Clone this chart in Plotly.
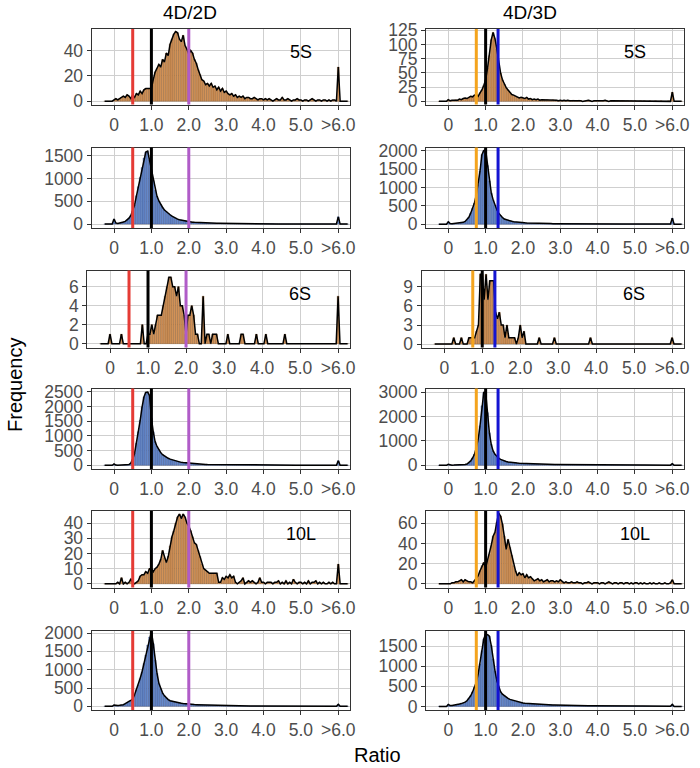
import numpy as np
import plotly.graph_objects as go

# ---------------- data (counts per 0.05-wide ratio bin, first bin centred at -0.25) ----------------
BIN_START = -0.25
BIN_WIDTH = 0.05

tick_vals = [0, 1, 2, 3, 4, 5, 6]
tick_text = ["0", "1.0", "2.0", "3.0", "4.0", "5.0", ">6.0"]

col_titles = ["4D/2D", "4D/3D"]
row_labels = ["5S", None, "6S", None, "10L", None]

ref_2d = [0.5, 1.0, 2.0]
ref_2d_colors = ["#E53B35", "#000000", "#B05CC8"]
ref_3d = [0.75, 1.0, 1.333]
ref_3d_colors = ["#F4A41E", "#000000", "#1414D2"]

s5_2d_a = [0, 0, 0, 0, 0,
           1, 2, 1, 2, 3, 4, 3, 5, 4, 2, 5, 3, 6, 5, 8, 6, 9, 10, 10, 10,
           10, 17, 23, 26, 29, 27, 33, 31, 38, 36, 45, 49, 53, 55, 54, 49, 47, 52, 44, 41,
           37, 40, 38, 33, 30, 25, 21, 17, 16, 13, 14, 12, 14, 11, 12, 9, 11, 8, 10, 7,
           8, 6, 5, 6, 4, 5, 3, 4, 3, 4, 2, 3, 3, 2, 2, 3, 2, 1, 2, 2,
           1, 2, 1, 2, 1, 0, 1, 2, 1, 1, 3, 1, 1, 2, 1, 0, 1, 1, 2, 1,
           1, 0, 1, 1, 0, 1, 2, 1, 0, 1, 1, 0, 1, 1, 0, 1, 0, 1, 1, 0,
           27, 0, 0, 0, 0, 0]

s5_3d_a = [0, 0, 0, 0, 0,
           3, 1, 2, 2, 3, 2, 4, 3, 5, 6, 5, 7, 9, 8, 11, 12, 9, 15, 20, 28,
           38, 58, 80, 108, 121, 110, 92, 66, 50, 38, 30, 24, 20, 16, 12, 11, 9, 7, 6, 7,
           6, 5, 7, 4, 5, 3, 4, 3, 4, 2, 3, 3, 2, 3, 2, 2, 3, 2, 2, 1,
           2, 1, 2, 1, 2, 1, 1, 2, 1, 1, 2, 1, 0, 1, 1, 2, 1, 0, 1, 1,
           1, 0, 1, 1, 2, 1, 0, 1, 1, 0, 1, 1, 0, 1, 1, 0, 1, 0, 1, 0,
           1, 0, 0, 1, 0, 1, 0, 0, 1, 0, 0, 1, 0, 0, 1, 0, 0, 0, 1, 0,
           16, 0, 0, 0, 0, 0]

s5_2d_b = [0, 0, 0, 0, 0,
           110, 25, 15, 20, 30, 45, 60, 90, 130, 190, 290, 420, 620, 820, 1020, 1240, 1450, 1580, 1600, 1400,
           1170, 950, 740, 610, 510, 430, 365, 310, 270, 235, 205, 175, 150, 130, 110, 98, 88, 80, 72, 62,
           52, 47, 43, 40, 37, 34, 31, 29, 27, 25, 24, 22, 21, 20, 19, 18, 17, 16, 15, 15,
           14, 13, 13, 12, 12, 11, 11, 10, 10, 10, 9, 9, 9, 8, 8, 8, 8, 7, 7, 7,
           7, 6, 6, 6, 6, 6, 5, 5, 5, 5, 5, 5, 4, 4, 4, 4, 4, 4, 4, 4,
           4, 3, 3, 3, 3, 3, 3, 3, 3, 3, 3, 3, 3, 2, 2, 2, 2, 2, 2, 2,
           160, 0, 0, 0, 0, 0]

s5_3d_b = [0, 0, 0, 0, 0,
           65, 15, 12, 15, 18, 22, 28, 36, 50, 75, 120, 190, 300, 430, 580, 800, 1080, 1450, 1900, 2010,
           2030, 1600, 1180, 860, 670, 510, 395, 300, 230, 180, 140, 120, 105, 90, 78, 68, 60, 54, 48, 45,
           42, 38, 35, 32, 30, 28, 26, 24, 22, 21, 20, 19, 18, 17, 16, 15, 14, 13, 13, 12,
           12, 11, 11, 10, 10, 9, 9, 9, 8, 8, 8, 7, 7, 7, 7, 6, 6, 6, 6, 6,
           5, 5, 5, 5, 5, 5, 5, 4, 4, 4, 4, 4, 4, 4, 4, 3, 3, 3, 3, 3,
           3, 3, 3, 3, 3, 3, 2, 2, 2, 2, 2, 2, 2, 2, 2, 2, 2, 2, 2, 2,
           165, 0, 0, 0, 0, 0]

s6_2d_a = [0, 0, 0, 0, 0,
           1, 0, 0, 0, 0, 0, 1, 0, 0, 0, 0, 0, 0, 0, 0, 0, 0, 2, 0, 0,
           1, 1, 2, 1, 2, 3, 3, 3, 4, 5, 6, 7, 7, 6, 6, 5, 6, 4, 4, 3,
           1, 3, 3, 4, 3, 1, 1, 0, 0, 5, 0, 1, 1, 0, 1, 1, 1, 0, 0, 0,
           0, 0, 1, 0, 0, 0, 0, 0, 0, 1, 1, 0, 0, 0, 0, 0, 0, 1, 0, 0,
           0, 0, 1, 0, 0, 0, 0, 0, 0, 0, 0, 0, 1, 0, 0, 0, 0, 0, 0, 0,
           0, 0, 0, 0, 0, 0, 0, 0, 0, 0, 0, 0, 0, 0, 0, 0, 0, 0, 0, 0,
           5, 0, 0, 0, 0, 0]

s6_3d_a = [0, 0, 0, 0, 0,
           0, 0, 0, 0, 0, 1, 0, 0, 0, 1, 0, 0, 0, 1, 1, 1, 1, 2, 3, 11,
           11, 7, 11, 7, 10, 10, 10, 5, 4, 5, 3, 3, 1, 3, 1, 1, 1, 1, 0, 1,
           3, 1, 2, 0, 0, 0, 0, 0, 0, 0, 1, 0, 0, 0, 0, 0, 0, 0, 1, 0,
           0, 0, 0, 0, 0, 0, 0, 0, 0, 0, 0, 0, 0, 0, 0, 0, 0, 1, 0, 0,
           0, 0, 0, 0, 0, 0, 0, 0, 0, 0, 0, 0, 0, 0, 0, 0, 0, 0, 0, 0,
           0, 0, 0, 0, 0, 0, 0, 0, 0, 0, 0, 0, 0, 0, 0, 0, 0, 0, 0, 0,
           1, 0, 0, 0, 0, 0]

s6_2d_b = [0, 0, 0, 0, 0,
           45, 8, 5, 5, 6, 8, 10, 15, 25, 80, 210, 410, 750, 1140, 1530, 1980, 2320, 2480, 2490, 2370,
           1600, 1140, 800, 640, 525, 430, 360, 310, 270, 240, 210, 190, 170, 150, 125, 110, 100, 92, 85, 80,
           75, 65, 55, 50, 46, 42, 38, 35, 33, 30, 28, 27, 26, 25, 24, 23, 22, 22, 21, 21,
           20, 19, 18, 17, 16, 15, 15, 14, 14, 13, 13, 12, 12, 11, 11, 10, 10, 10, 9, 9,
           9, 9, 8, 8, 8, 8, 7, 7, 7, 7, 7, 6, 6, 6, 6, 6, 6, 5, 5, 5,
           5, 5, 5, 5, 5, 4, 4, 4, 4, 4, 4, 4, 4, 4, 3, 3, 3, 3, 3, 3,
           155, 0, 0, 0, 0, 0]

s6_3d_b = [0, 0, 0, 0, 0,
           40, 10, 8, 9, 10, 12, 15, 18, 25, 35, 55, 100, 180, 300, 450, 725, 1070, 1620, 2440, 2990,
           3000, 2160, 1340, 860, 590, 450, 355, 290, 245, 210, 180, 160, 140, 125, 120, 110, 100, 95, 88, 84,
           80, 74, 70, 66, 62, 58, 55, 52, 50, 48, 46, 44, 42, 41, 40, 39, 38, 37, 36, 35,
           34, 33, 32, 31, 30, 29, 28, 27, 26, 25, 24, 24, 23, 22, 22, 21, 20, 20, 19, 19,
           18, 18, 17, 17, 16, 16, 15, 15, 15, 14, 14, 14, 13, 13, 13, 12, 12, 12, 11, 11,
           11, 11, 10, 10, 10, 10, 9, 9, 9, 9, 9, 8, 8, 8, 8, 8, 8, 7, 7, 7,
           70, 0, 0, 0, 0, 0]

s10_2d_a = [0, 0, 0, 0, 0,
            0, 0, 1, 0, 4, 0, 1, 0, 1, 3, 1, 0, 1, 2, 5, 6, 6, 8, 7, 10,
            10, 8, 10, 11, 13, 16, 22, 17, 14, 18, 25, 31, 35, 40, 44, 46, 43, 46, 44, 40,
            38, 35, 31, 27, 26, 22, 18, 13, 10, 9, 8, 7, 7, 7, 7, 7, 1, 1, 4, 3,
            5, 4, 6, 4, 5, 1, 0, 1, 2, 4, 0, 1, 2, 1, 2, 1, 0, 1, 4, 1,
            1, 0, 1, 1, 1, 0, 1, 1, 2, 0, 1, 0, 2, 0, 1, 0, 3, 1, 0, 1,
            1, 0, 1, 0, 2, 0, 1, 1, 2, 0, 1, 0, 1, 0, 0, 1, 0, 1, 0, 0,
            13, 0, 0, 0, 0, 0]

s10_3d_a = [0, 0, 0, 0, 0,
            0, 0, 1, 1, 2, 2, 3, 4, 2, 4, 3, 2, 2, 1, 3, 5, 8, 13, 18, 21,
            16, 23, 29, 38, 47, 51, 61, 70, 67, 59, 47, 34, 44, 36, 28, 18, 13, 8, 11, 9,
            10, 6, 9, 6, 7, 5, 3, 4, 5, 3, 4, 2, 3, 4, 2, 3, 3, 2, 3, 2,
            4, 2, 1, 2, 1, 1, 2, 1, 1, 2, 1, 1, 0, 1, 1, 2, 1, 0, 1, 1,
            1, 0, 1, 1, 0, 1, 2, 1, 0, 1, 1, 0, 1, 1, 0, 1, 1, 0, 1, 0,
            1, 1, 0, 1, 0, 1, 0, 0, 1, 0, 1, 0, 0, 1, 0, 0, 1, 0, 0, 1,
            4, 0, 0, 0, 0, 0]

s10_2d_b = [0, 0, 0, 0, 0,
            36, 20, 22, 28, 35, 45, 72, 95, 135, 165, 200, 315, 450, 585, 765, 945, 1170, 1400, 1670, 1890,
            2040, 1710, 1260, 900, 630, 480, 360, 285, 225, 185, 153, 138, 126, 112, 100, 90, 82, 75, 68, 60,
            54, 52, 50, 48, 46, 44, 42, 40, 38, 37, 36, 34, 32, 30, 28, 27, 25, 23, 21, 20,
            18, 17, 16, 16, 15, 14, 14, 13, 13, 12, 12, 11, 11, 10, 10, 10, 9, 9, 9, 8,
            8, 8, 8, 7, 7, 7, 7, 6, 6, 6, 6, 6, 6, 5, 5, 5, 5, 5, 5, 5,
            4, 4, 4, 4, 4, 4, 4, 4, 4, 3, 3, 3, 3, 3, 3, 3, 3, 3, 3, 3,
            54, 0, 0, 0, 0, 0]

s10_3d_b = [0, 0, 0, 0, 0,
            50, 20, 22, 28, 33, 45, 58, 70, 83, 105, 140, 195, 265, 360, 475, 600, 810, 1060, 1390, 1680,
            1800, 1790, 1750, 1520, 1180, 890, 640, 475, 365, 305, 265, 230, 200, 175, 160, 140, 125, 110, 98, 90,
            83, 78, 74, 70, 66, 62, 58, 55, 52, 50, 48, 46, 44, 42, 40, 38, 36, 34, 32, 30,
            29, 28, 27, 26, 25, 24, 23, 22, 21, 20, 20, 19, 18, 18, 17, 16, 16, 15, 15, 14,
            14, 13, 13, 13, 12, 12, 12, 11, 11, 11, 10, 10, 10, 10, 9, 9, 9, 9, 8, 8,
            8, 8, 8, 7, 7, 7, 7, 7, 6, 6, 6, 6, 6, 6, 5, 5, 5, 5, 5, 5,
            50, 0, 0, 0, 0, 0]

# ---------------- styling / layout ----------------
W, H = 700, 768
ORANGE_FILL, ORANGE_EDGE = "#D9985C", "rgba(95,55,20,0.55)"
BLUE_FILL, BLUE_EDGE = "#6A8FD2", "rgba(30,45,95,0.55)"
FONT = "Liberation Sans, Arial, sans-serif"
TICK_SIZE = 17.5

# panels in row-major order: (counts, fill, edge, row, col, y range, y dtick)
panels = [
    (s5_2d_a, ORANGE_FILL, ORANGE_EDGE, 0, 0, [-2.6, 57], 20),
    (s5_3d_a, ORANGE_FILL, ORANGE_EDGE, 0, 1, [-5.5, 127], 25),
    (s5_2d_b, BLUE_FILL, BLUE_EDGE, 1, 0, [-85, 1680], 500),
    (s5_3d_b, BLUE_FILL, BLUE_EDGE, 1, 1, [-105, 2095], 500),
    (s6_2d_a, ORANGE_FILL, ORANGE_EDGE, 2, 0, [-0.4, 7.7], 2),
    (s6_3d_a, ORANGE_FILL, ORANGE_EDGE, 2, 1, [-0.55, 11.6], 3),
    (s6_2d_b, BLUE_FILL, BLUE_EDGE, 3, 0, [-125, 2610], 500),
    (s6_3d_b, BLUE_FILL, BLUE_EDGE, 3, 1, [-150, 3150], 1000),
    (s10_2d_a, ORANGE_FILL, ORANGE_EDGE, 4, 0, [-2.4, 48], 10),
    (s10_3d_a, ORANGE_FILL, ORANGE_EDGE, 4, 1, [-3.6, 72], 20),
    (s10_2d_b, BLUE_FILL, BLUE_EDGE, 5, 0, [-100, 2055], 500),
    (s10_3d_b, BLUE_FILL, BLUE_EDGE, 5, 1, [-90, 1880], 500),
]

ROW_TOP = [29, 147.5, 270.5, 388.5, 511, 631]
ROW_BOT = [104.5, 228, 347.5, 469, 587.5, 710]
COL_RIGHT = [349.5, 683.5]
COL_LEFT = [[91.6, 425.9], [91.6, 425.9], [87.2, 421.5], [91.6, 425.9], [91.6, 425.9], [91.6, 425.9]]
X_RANGE = [-0.6, 6.3]

fig = go.Figure()
layout = dict(
    template="none",
    width=W, height=H, autosize=False,
    margin=dict(l=0, r=0, t=0, b=0, pad=0, autoexpand=False),
    paper_bgcolor="white", plot_bgcolor="white",
    showlegend=False, bargap=0, barmode="overlay",
    font=dict(family=FONT, color="#4D4D4D", size=17),
)
shapes = []
annotations = []

for i, (counts, fill, edge, r, c, yr, dt) in enumerate(panels):
    n = i + 1
    xa = "x" if n == 1 else f"x{n}"
    ya = "y" if n == 1 else f"y{n}"
    centers = BIN_START + BIN_WIDTH * np.arange(len(counts))
    fig.add_trace(go.Bar(x=centers, y=counts, width=BIN_WIDTH, xaxis=xa, yaxis=ya,
                         marker=dict(color=fill, line=dict(color=edge, width=0.5)),
                         hoverinfo="skip"))
    fig.add_trace(go.Scatter(x=centers, y=counts, mode="lines", xaxis=xa, yaxis=ya,
                             line=dict(color="black", width=1.5), hoverinfo="skip"))
    xd = [COL_LEFT[r][c] / W, COL_RIGHT[c] / W]
    yd = [1 - ROW_BOT[r] / H, 1 - ROW_TOP[r] / H]
    axis_common = dict(showline=True, mirror=True, linecolor="#333333", linewidth=1,
                       showgrid=True, gridcolor="#CFCFCF", gridwidth=1, zeroline=False,
                       ticks="outside", ticklen=4, tickcolor="#333333", automargin=False,
                       tickfont=dict(family=FONT, size=TICK_SIZE, color="#4D4D4D"))
    layout["xaxis" if n == 1 else f"xaxis{n}"] = dict(
        axis_common, domain=xd, range=X_RANGE, anchor=ya,
        tickmode="array", tickvals=tick_vals, ticktext=tick_text)
    layout["yaxis" if n == 1 else f"yaxis{n}"] = dict(
        axis_common, domain=yd, range=yr, anchor=xa,
        tickmode="linear", tick0=0, dtick=dt)
    refs, cols = (ref_2d, ref_2d_colors) if c == 0 else (ref_3d, ref_3d_colors)
    for rv, rc in zip(refs, cols):
        shapes.append(dict(type="line", xref=xa, yref=f"{ya} domain", x0=rv, x1=rv, y0=0, y1=1,
                           line=dict(color=rc, width=3), layer="above"))
    lab = row_labels[r]
    if lab:
        annotations.append(dict(text=lab, xref=xa, yref=f"{ya} domain", x=5, y=0.70,
                                showarrow=False, xanchor="center", yanchor="middle",
                                font=dict(family=FONT, size=18, color="black")))

# column titles and axis titles
def paper_text(text, px, py, size, angle=0):
    return dict(text=text, xref="paper", yref="paper", x=px / W, y=1 - py / H,
                xanchor="center", yanchor="middle", textangle=angle, showarrow=False,
                font=dict(family=FONT, size=size, color="black"))

annotations.append(paper_text(col_titles[0], 190, 12, 19))
annotations.append(paper_text(col_titles[1], 530, 12, 19))
annotations.append(paper_text("Frequency", 15, 385, 20, -90))
annotations.append(paper_text("Ratio", 377, 755, 20))

layout["shapes"] = shapes
layout["annotations"] = annotations
fig.update_layout(**layout)
fig.write_html("out.html",
               config={"displayModeBar": False, "staticPlot": True},
               post_script="document.body.style.margin='0px';document.body.style.padding='0px';"
                           "document.documentElement.style.overflow='hidden';")
